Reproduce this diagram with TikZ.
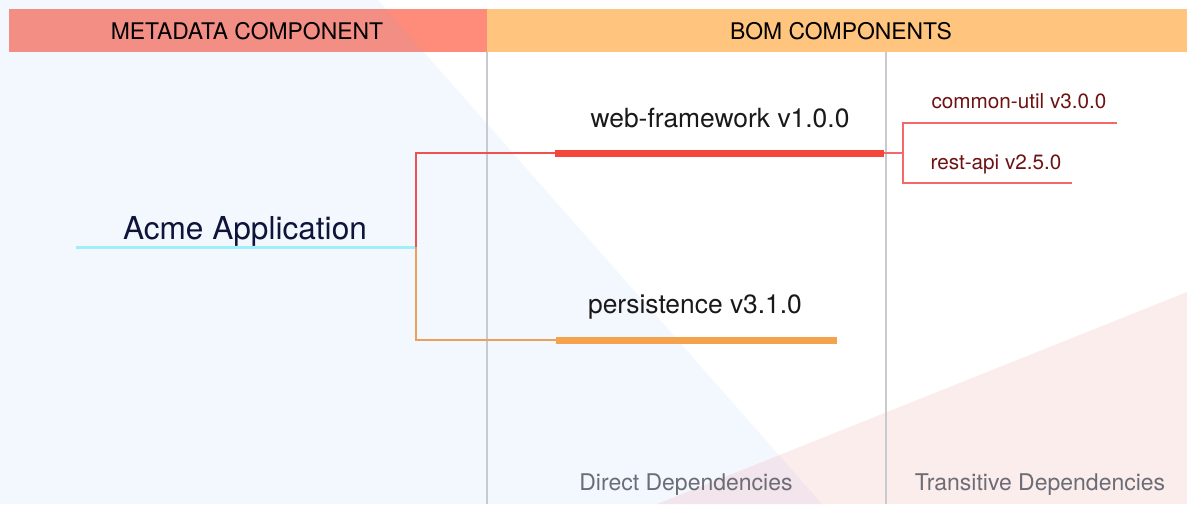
\documentclass[tikz,border=0pt]{standalone}
\usepackage{fontspec}
\setmainfont{TeX Gyre Heros}
\definecolor{metahead}{RGB}{255,139,122}
\definecolor{bomhead}{RGB}{255,197,127}
\definecolor{blueshade}{RGB}{122,178,244}
\definecolor{pinkshade}{RGB}{235,80,80}
\definecolor{gridgray}{RGB}{200,202,207}
\definecolor{appnavy}{RGB}{14,20,58}
\definecolor{cyanline}{RGB}{160,238,252}
\definecolor{redbar}{RGB}{245,70,60}
\definecolor{redthin}{RGB}{238,82,78}
\definecolor{orangebar}{RGB}{245,162,76}
\definecolor{orangethin}{RGB}{236,160,90}
\definecolor{transred}{RGB}{243,105,105}
\definecolor{transtext}{RGB}{110,18,18}
\definecolor{labelgray}{RGB}{108,108,118}
\begin{document}
\begin{tikzpicture}[x=1pt,y=-1pt,
  headtext/.style={anchor=base,inner sep=0pt,text=black,font=\fontsize{22.9}{26}\selectfont},
  apptext/.style={anchor=base,inner sep=0pt,text=appnavy,font=\fontsize{31.6}{36}\selectfont},
  deptext/.style={anchor=base,inner sep=0pt,text=black!90,font=\fontsize{26.4}{30}\selectfont},
  transtextstyle/.style={anchor=base,inner sep=0pt,text=transtext,font=\fontsize{20.7}{24}\selectfont},
  coltext/.style={anchor=base,inner sep=0pt,text=labelgray,font=\fontsize{23}{27}\selectfont},
  gridline/.style={draw=gridgray,line width=1.5pt},
  appline/.style={draw=cyanline,line width=3pt},
  redconn/.style={draw=redthin,line width=2pt},
  orangeconn/.style={draw=orangethin,line width=2pt},
  redbarline/.style={draw=redbar,line width=7pt},
  orangebarline/.style={draw=orangebar,line width=7pt},
  transconn/.style={draw=transred,line width=1.8pt}
]
\useasboundingbox (0,0) rectangle (1187,504);
\fill[white] (0,0) rectangle (1187,504);
% headers
\fill[metahead] (9,9) rectangle (487,52);
\fill[bomhead] (487,9) rectangle (1187,52);
% background shades
\fill[blueshade,opacity=0.09] (0,0) -- (378,0) -- (822,504) -- (0,504) -- cycle;
\fill[pinkshade,opacity=0.1] (657,504) -- (1187,292) -- (1187,504) -- cycle;
% header text
\node[headtext] (metaT) at (247,39) {METADATA COMPONENT};
\node[headtext] (bomT) at (841,39) {BOM COMPONENTS};
% column separators
\coordinate (sepA1) at (487,52); \coordinate (sepA2) at (487,504);
\coordinate (sepB1) at (886,52); \coordinate (sepB2) at (886,504);
\draw[gridline] (sepA1) -- (sepA2);
\draw[gridline] (sepB1) -- (sepB2);
% texts
\node[apptext] (app) at (245,239) {Acme Application};
\node[deptext] (web) at (720,127) {web-framework v1.0.0};
\node[deptext] (pers) at (695,313) {persistence v3.1.0};
\node[transtextstyle] (cu) at (1019,108) {common-util v3.0.0};
\node[transtextstyle] (ra) at (996,169) {rest-api v2.5.0};
\node[coltext] (direct) at (686,490) {Direct Dependencies};
\node[coltext] (trans) at (1040,490) {Transitive Dependencies};
% connector points
\coordinate (appL) at (76,247);
\coordinate (hub) at (416,247);
\coordinate (webS) at (555,153);
\coordinate (webE) at (884,153);
\coordinate (persS) at (556,340);
\coordinate (persE) at (837,340);
\coordinate (tHub) at (903,153);
\coordinate (cuE) at (1117,123);
\coordinate (raE) at (1072,183);
% connectors
\draw[appline] (appL) -- (hub);
\draw[redconn] (hub) |- (webS);
\draw[orangeconn] (hub) |- (persS);
\draw[transconn] (webE) -- (tHub);
\draw[transconn] (tHub) |- (cuE);
\draw[transconn] (tHub) |- (raE);
\draw[redbarline] (webS) -- (webE);
\draw[orangebarline] (persS) -- (persE);
\end{tikzpicture}
\end{document}
